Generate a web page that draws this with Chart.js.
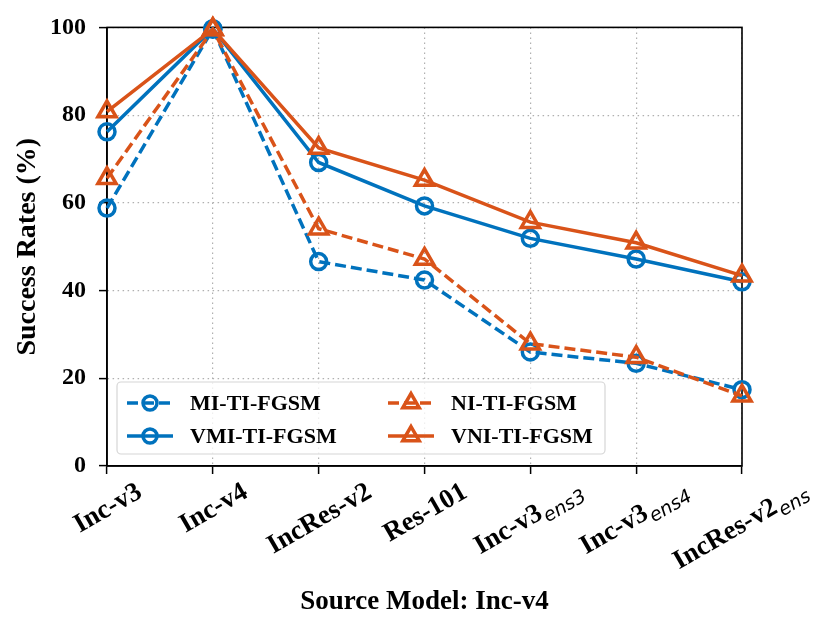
<!DOCTYPE html>
<html>
<head>
<meta charset="utf-8">
<script src="https://cdn.jsdelivr.net/npm/chart.js@4"></script>
<style>
  html, body { margin: 0; padding: 0; background: #fff; }
  #wrap { width: 830px; height: 632px; }
</style>
</head>
<body>
<div id="wrap"><canvas id="c" width="830" height="632"></canvas></div>
<script>
// Data
const categories = ['Inc-v3', 'Inc-v4', 'IncRes-v2', 'Res-101', 'Inc-v3|ens3', 'Inc-v3|ens4', 'IncRes-v2|ens'];
const miTiFgsm  = [58.8, 99.6, 46.6, 42.4, 26.0, 23.4, 17.4];
const vmiTiFgsm = [76.2, 99.7, 69.2, 59.3, 51.9, 47.2, 42.0];
const niTiFgsm  = [65.6, 99.5, 54.1, 47.2, 27.9, 24.8, 16.0];
const vniTiFgsm = [80.8, 99.6, 72.5, 65.2, 55.6, 50.9, 43.4];
const yTicks = [0, 20, 40, 60, 80, 100];

const BLUE = '#0072BD';
const ORANGE = '#D95319';
const SERIF = "'Liberation Serif', 'Times New Roman', serif";

function series(label, data, color, dashed, shape) {
    return {
        label: label,
        data: data,
        borderColor: color,
        backgroundColor: 'rgba(0,0,0,0)',
        borderWidth: 3.5,
        borderDash: dashed ? [11, 5] : [],
        pointStyle: shape,
        pointRadius: shape === 'triangle' ? 10.5 : 8,
        pointBorderWidth: 3.5,
        pointBackgroundColor: 'rgba(255,255,255,0)',
        pointBorderColor: color,
        tension: 0,
        clip: false
    };
}

const datasets = [
    Object.assign(series('MI-TI-FGSM', miTiFgsm, BLUE, true, 'circle'), { order: 4 }),
    Object.assign(series('VMI-TI-FGSM', vmiTiFgsm, BLUE, false, 'circle'), { order: 3 }),
    Object.assign(series('NI-TI-FGSM', niTiFgsm, ORANGE, true, 'triangle'), { order: 2 }),
    Object.assign(series('VNI-TI-FGSM', vniTiFgsm, ORANGE, false, 'triangle'), { order: 1 })
];

// full black box around the plot, like matplotlib spines
const framePlugin = {
    id: 'frame',
    beforeDatasetsDraw(chart) {
        const a = chart.chartArea, ctx = chart.ctx;
        ctx.save();
        ctx.strokeStyle = '#000';
        ctx.lineWidth = 1.6;
        ctx.strokeRect(a.left, a.top, a.right - a.left, a.bottom - a.top);
        ctx.restore();
    }
};

// rotated x tick labels with italic subscripts
const xLabelPlugin = {
    id: 'xLabels',
    afterDraw(chart) {
        const ctx = chart.ctx, xs = chart.scales.x;
        const theta = Math.PI / 6;
        const mainFont = 'bold 27px ' + SERIF;
        const subFont = "oblique 19px 'DejaVu Sans', sans-serif";
        ctx.save();
        ctx.fillStyle = '#000';
        categories.forEach((cat, i) => {
            const parts = cat.split('|');
            ctx.font = mainFont;
            const w1 = ctx.measureText(parts[0]).width;
            let w2 = 0;
            if (parts[1]) { ctx.font = subFont; w2 = ctx.measureText(parts[1]).width + 1; }
            const w = w1 + w2;
            const h = parts[1] ? 30 : 24;
            const bh = w * Math.sin(theta) + h * Math.cos(theta);
            const cx = xs.getPixelForValue(i);
            const cy = chart.chartArea.bottom + 12 + bh / 2;
            ctx.save();
            ctx.translate(cx, cy);
            ctx.rotate(-theta);
            ctx.textBaseline = 'alphabetic';
            ctx.textAlign = 'left';
            const base = parts[1] ? 4 : 9;
            ctx.font = mainFont;
            ctx.fillText(parts[0], -w / 2, base);
            if (parts[1]) {
                ctx.font = subFont;
                ctx.fillText(parts[1], -w / 2 + w1 + 1, base + 6);
            }
            ctx.restore();
        });
        ctx.restore();
    }
};

// legend inside the plot, two columns, lower left
const legendPlugin = {
    id: 'innerLegend',
    afterDraw(chart) {
        const ctx = chart.ctx, a = chart.chartArea;
        const x0 = a.left + 10, y0 = a.bottom - 84, bw = 488, bh = 72;
        ctx.save();
        ctx.fillStyle = 'rgba(255,255,255,0.8)';
        ctx.strokeStyle = '#d6d6d6';
        ctx.lineWidth = 1.2;
        ctx.beginPath();
        ctx.roundRect(x0, y0, bw, bh, 4);
        ctx.fill();
        ctx.stroke();
        const cols = [x0 + 10, x0 + 271];
        const rows = [y0 + 21, y0 + 54];
        chart.data.datasets.forEach((ds, i) => {
            const sx = cols[Math.floor(i / 2)], sy = rows[i % 2];
            ctx.strokeStyle = ds.borderColor;
            ctx.lineWidth = ds.borderWidth;
            ctx.setLineDash(ds.borderDash);
            ctx.beginPath();
            ctx.moveTo(sx, sy);
            ctx.lineTo(sx + 46, sy);
            ctx.stroke();
            ctx.setLineDash([]);
            ctx.fillStyle = 'rgba(255,255,255,0)';
            ctx.lineWidth = ds.pointBorderWidth;
            Chart.helpers.drawPoint(ctx, {
                pointStyle: ds.pointStyle,
                radius: ds.pointStyle === 'triangle' ? 9.5 : 7,
                borderWidth: ds.pointBorderWidth,
                rotation: 0
            }, sx + 23, sy);
            ctx.fillStyle = '#000';
            ctx.font = 'bold 22px ' + SERIF;
            ctx.textBaseline = 'middle';
            ctx.fillText(ds.label, sx + 63, sy + 1);
        });
        ctx.restore();
    }
};

new Chart(document.getElementById('c'), {
    type: 'line',
    data: { labels: categories, datasets: datasets },
    plugins: [framePlugin, xLabelPlugin, legendPlugin],
    options: {
        responsive: false,
        animation: false,
        devicePixelRatio: 1,
        layout: { padding: { top: 26, right: 88, left: 0, bottom: 0 } },
        plugins: { legend: { display: false }, tooltip: { enabled: false } },
        scales: {
            x: {
                type: 'category',
                offset: false,
                afterFit: s => { s.height = 166; },
                ticks: { display: false },
                grid: { color: '#b0b0b0', lineWidth: 1.2, tickColor: '#000', tickLength: 8, tickWidth: 1.5 },
                border: { display: true, color: '#000', width: 1.6, dash: [1.5, 3.5] },
                title: {
                    display: true,
                    text: 'Source Model: Inc-v4',
                    color: '#000',
                    font: { family: SERIF, size: 27, weight: 'bold' },
                    padding: { top: 0, bottom: 14 }
                }
            },
            y: {
                min: 0,
                max: 100,
                afterFit: s => { s.width = 107; },
                afterBuildTicks: s => { s.ticks = yTicks.map(v => ({ value: v })); },
                ticks: {
                    color: '#000',
                    padding: 13,
                    font: { family: SERIF, size: 24, weight: 'bold' }
                },
                grid: { color: '#b0b0b0', lineWidth: 1.2, tickColor: '#000', tickLength: 8, tickWidth: 1.5 },
                border: { display: true, color: '#000', width: 1.6, dash: [1.5, 3.5] },
                title: {
                    display: true,
                    text: 'Success Rates (%)',
                    color: '#000',
                    font: { family: SERIF, size: 28, weight: 'bold' },
                    padding: { top: 11, bottom: 0 }
                }
            }
        }
    }
});
</script>
</body>
</html>
